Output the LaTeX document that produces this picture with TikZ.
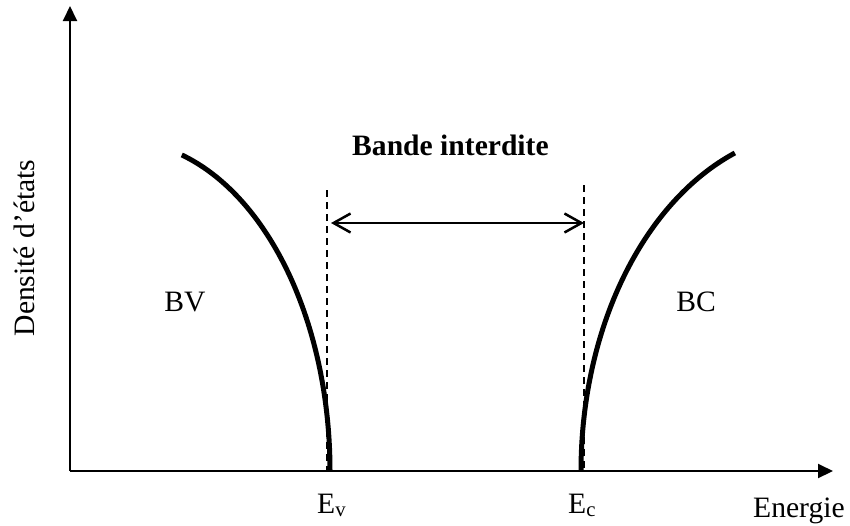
\documentclass[tikz,border=0pt]{standalone}
\usepackage{fontspec}
\setmainfont{Liberation Serif}
\usetikzlibrary{arrows.meta}
\tikzset{
  lbl/.style={font=\fontsize{29.6}{33}\selectfont, inner sep=0pt},
  axisline/.style={line width=2pt, -{Triangle[length=15pt,width=14pt]}},
  band/.style={line width=5pt},
  gapline/.style={line width=1.5pt, dash pattern=on 7pt off 5pt},
  gaparrow/.style={line width=2.5pt, {Straight Barb[length=17pt,width=19pt]}-{Straight Barb[length=17pt,width=19pt]}}
}
\begin{document}
\begin{tikzpicture}[x=1pt,y=-1pt]
\useasboundingbox (0,0) rectangle (850,525);
\coordinate (O) at (70,471);
\coordinate (ytip) at (70,6);
\coordinate (xtip) at (833,471);
\draw[axisline] (O) -- (ytip);
\draw[axisline] (O) -- (xtip);
% bands (elliptic arcs, vertical at the band edges)
\draw[band] plot[domain=0:73.3, samples=80, smooth] ({122+208*cos(\x)}, {471-330*sin(\x)});
\draw[band] plot[domain=0:69.3, samples=80, smooth] ({819-238*cos(\x)}, {471-340*sin(\x)});
% gap markers
\coordinate (vtop) at (327,190);
\coordinate (vbot) at (327,471);
\coordinate (ctop) at (584,185);
\coordinate (cbot) at (584,471);
\draw[gapline] (vtop) -- (vbot);
\draw[gapline] (ctop) -- (cbot);
\coordinate (al) at (331,223);
\coordinate (ar) at (584,223);
\draw[gaparrow] (al) -- (ar);
% labels
\node[lbl, font=\fontsize{29.6}{33}\selectfont\bfseries, anchor=base west] (gap) at (352,155) {Bande interdite};
\node[lbl] (bv) at (185,302) {BV};
\node[lbl] (bc) at (696,302) {BC};
\node[lbl, anchor=base west] (ev) at (317,513) {E\textsubscript{v}};
\node[lbl, anchor=base west] (ec) at (568,513) {E\textsubscript{c}};
\node[lbl, anchor=base west] (en) at (753,517) {Energie};
\node[lbl, rotate=90] (dos) at (24,248) {Densité d'états};
\end{tikzpicture}
\end{document}
